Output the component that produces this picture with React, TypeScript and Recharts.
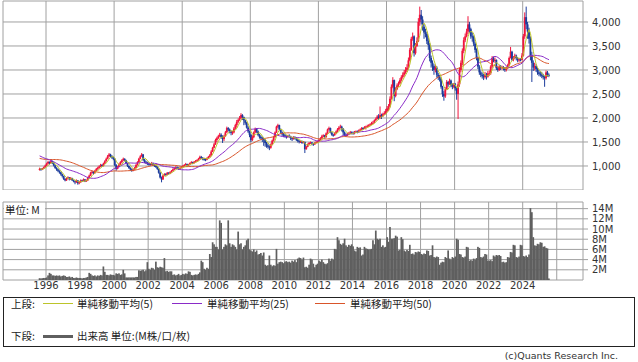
import React from 'react';
import {
  ComposedChart, Bar, Line, XAxis, YAxis, CartesianGrid, ReferenceArea
} from 'recharts';

// monthly bars, 1995-08 .. 2025-07
const START_YEAR = 1995;
const START_MONTH = 8;

// closes before the visible window, only used to seed the moving averages
const historyCloses = [
  1250, 1220, 1200, 1180, 1150, 1120,
  1100, 1080, 1050, 1020, 1000, 980, 970, 990, 1020, 1050, 1070, 1080,
  1050, 1080, 1120, 1150, 1200, 1230, 1250, 1280, 1300, 1320, 1300, 1280,
  1300, 1350, 1380, 1400, 1420, 1380, 1350, 1320, 1280, 1250, 1200, 1180,
  1150, 1100, 1020, 980, 950, 930, 920,
];

const closes = [
  940, 925, 950, 975, 1010,
  1050, 1085, 1060, 1100, 1070, 1010, 960, 930, 900, 870, 830, 790,
  730, 700, 740, 760, 720, 750, 700, 680, 660, 700, 640, 660,
  700, 690, 720, 680, 700, 760, 800, 860, 880, 850, 900, 940,
  960, 990, 1020, 1000, 1050, 1100, 1150, 1200, 1240, 1210, 1180, 1150,
  1020, 940, 980, 1040, 1080, 1120, 1150, 1120, 1060, 1000, 960, 930,
  900, 920, 960, 1020, 1080, 1150, 1200, 1240, 1130, 1090, 1070, 1050,
  1040, 1030, 1060, 1020, 1000, 990, 940, 860, 760, 720, 800, 830,
  820, 860, 840, 870, 900, 930, 950, 970, 960, 940, 960, 980,
  1000, 1020, 1040, 1010, 1030, 1060, 1080, 1060, 1090, 1100, 1120, 1150,
  1190, 1170, 1150, 1140, 1130, 1160, 1190, 1220, 1300, 1380, 1450, 1540,
  1580, 1620, 1650, 1600, 1560, 1620, 1700, 1790, 1760, 1720, 1690, 1700,
  1780, 1850, 1920, 1960, 2000, 2060, 2020, 1950, 1900, 1800, 1720, 1650,
  1540, 1600, 1700, 1770, 1720, 1650, 1610, 1580, 1560, 1540, 1480, 1430,
  1400, 1380, 1450, 1530, 1600, 1700, 1820, 1850, 1760, 1700, 1660, 1640,
  1620, 1600, 1630, 1610, 1580, 1560, 1600, 1580, 1550, 1520, 1500, 1510,
  1480, 1500, 1350, 1400, 1450, 1480, 1490, 1470, 1450, 1480, 1500, 1510,
  1540, 1580, 1620, 1640, 1600, 1680, 1760, 1790, 1700, 1650, 1640, 1680,
  1720, 1760, 1800, 1820, 1780, 1700, 1650, 1640, 1660, 1680, 1700, 1690,
  1680, 1700, 1720, 1710, 1740, 1760, 1790, 1780, 1800, 1820, 1830, 1850,
  1870, 1890, 1900, 1950, 1980, 2030, 2000, 2060, 2040, 2080, 2100, 2150,
  2200, 2240, 2400, 2650, 2790, 2460, 2600, 2680, 2720, 2790, 2850, 2900,
  2950, 3000, 3050, 3200, 3420, 3650, 3700, 3350, 3500, 3600, 4000, 4150,
  4050, 3900, 3780, 3750, 3600, 3520, 3250, 3150, 3080, 3000, 3050, 2900,
  2860, 2820, 2650, 2500, 2450, 2600, 2750, 2700, 2780, 2680, 2650, 2700,
  2620, 2500, 2700, 3000, 3150, 3400, 3620, 3700, 3800, 3950, 3850, 3700,
  3690, 3550, 3420, 3250, 3070, 2950, 2900, 2870, 2850, 2900, 2860, 2930,
  2930, 3070, 3240, 3200, 3210, 3035, 3000, 3070, 3040, 3060, 3035, 3000,
  3035, 3100, 3250, 3380, 3210, 3250, 3300, 3250, 3200, 3220, 3210, 3300,
  3700, 4100, 3950, 3800, 3650, 3300, 3150, 3050, 3080, 3020, 2950, 2920,
  2900, 2880, 2850, 2830, 2950, 2900, 2880,
];

const highs = [
  965, 955, 960, 990, 1030,
  1070, 1110, 1095, 1125, 1110, 1075, 1020, 975, 945, 910, 880, 840,
  800, 745, 760, 785, 770, 770, 755, 715, 695, 720, 705, 685,
  720, 715, 740, 730, 720, 775, 820, 880, 905, 890, 920, 960,
  985, 1010, 1045, 1040, 1070, 1120, 1175, 1230, 1270, 1255, 1225, 1195,
  1160, 1040, 1000, 1060, 1100, 1140, 1175, 1160, 1130, 1070, 1010, 975,
  950, 945, 980, 1040, 1100, 1170, 1225, 1270, 1250, 1145, 1110, 1090,
  1075, 1060, 1085, 1070, 1040, 1020, 1000, 950, 875, 780, 815, 850,
  850, 875, 870, 890, 915, 950, 975, 995, 990, 975, 975, 1000,
  1020, 1040, 1065, 1050, 1045, 1075, 1100, 1090, 1105, 1125, 1140, 1170,
  1215, 1210, 1185, 1170, 1160, 1180, 1210, 1250, 1330, 1400, 1480, 1570,
  1610, 1650, 1690, 1680, 1640, 1650, 1730, 1820, 1810, 1780, 1740, 1730,
  1810, 1880, 1960, 1990, 2040, 2100, 2080, 2030, 1960, 1920, 1830, 1740,
  1670, 1640, 1720, 1800, 1790, 1740, 1670, 1640, 1610, 1590, 1560, 1500,
  1460, 1430, 1470, 1550, 1630, 1720, 1840, 1880, 1860, 1780, 1720, 1690,
  1670, 1640, 1650, 1660, 1630, 1600, 1620, 1620, 1600, 1570, 1540, 1530,
  1530, 1520, 1510, 1420, 1470, 1500, 1510, 1500, 1480, 1500, 1520, 1530,
  1560, 1600, 1650, 1660, 1650, 1700, 1780, 1820, 1800, 1710, 1670, 1700,
  1740, 1790, 1830, 1860, 1840, 1790, 1720, 1680, 1690, 1710, 1730, 1720,
  1720, 1730, 1740, 1740, 1760, 1780, 1810, 1810, 1830, 1840, 1860, 1870,
  1890, 1920, 1940, 1970, 2010, 2060, 2080, 2240, 2090, 2110, 2140, 2190,
  2250, 2290, 2450, 2700, 2850, 2800, 2640, 2720, 2760, 2830, 2890, 2950,
  3000, 3060, 3120, 3260, 3460, 3690, 3780, 3720, 3560, 3680, 4080, 4320,
  4250, 4120, 3960, 3860, 3800, 3680, 3560, 3300, 3200, 3120, 3110, 3080,
  2940, 2900, 2840, 2670, 2560, 2640, 2790, 2770, 2820, 2800, 2720, 2730,
  2730, 2650, 2760, 3050, 3200, 3450, 3680, 3760, 3860, 4120, 4000, 3880,
  3780, 3720, 3580, 3450, 3280, 3100, 2990, 2950, 2920, 2960, 2940, 2980,
  2990, 3100, 3290, 3280, 3260, 3220, 3070, 3110, 3100, 3090, 3080, 3060,
  3070, 3130, 3280, 3480, 3400, 3290, 3340, 3320, 3270, 3250, 3250, 3350,
  3750, 4200, 4320, 4000, 3880, 3700, 3380, 3200, 3150, 3120, 3050, 3000,
  2970, 2960, 2920, 2880, 2990, 2980, 2930,
];

const lows = [
  905, 900, 915, 940, 965,
  1000, 1035, 1030, 1050, 1040, 990, 940, 900, 870, 840, 800, 760,
  710, 680, 690, 725, 700, 710, 690, 660, 620, 650, 610, 620,
  650, 670, 680, 665, 670, 690, 745, 790, 840, 820, 840, 890,
  920, 945, 975, 980, 990, 1040, 1090, 1140, 1180, 1180, 1150, 1120,
  1000, 900, 930, 970, 1020, 1060, 1100, 1100, 1040, 980, 940, 900,
  880, 890, 910, 950, 1010, 1070, 1140, 1190, 1100, 1060, 1040, 1020,
  1010, 1005, 1020, 1000, 980, 960, 920, 840, 740, 660, 710, 790,
  800, 810, 820, 830, 860, 890, 915, 935, 935, 920, 930, 950,
  965, 990, 1010, 990, 995, 1020, 1050, 1040, 1050, 1075, 1090, 1110,
  1140, 1150, 1120, 1110, 1100, 1120, 1150, 1180, 1210, 1290, 1370, 1440,
  1500, 1560, 1600, 1570, 1480, 1520, 1610, 1690, 1720, 1680, 1640, 1650,
  1680, 1760, 1800, 1890, 1940, 1980, 1960, 1850, 1860, 1780, 1690, 1600,
  1500, 1520, 1580, 1680, 1690, 1620, 1570, 1550, 1500, 1420, 1400, 1380,
  1360, 1330, 1360, 1430, 1510, 1590, 1690, 1790, 1740, 1670, 1620, 1600,
  1590, 1570, 1590, 1590, 1540, 1520, 1550, 1550, 1520, 1490, 1470, 1480,
  1460, 1470, 1270, 1340, 1390, 1440, 1460, 1430, 1420, 1440, 1470, 1480,
  1500, 1530, 1570, 1600, 1570, 1590, 1670, 1740, 1680, 1630, 1610, 1630,
  1660, 1700, 1740, 1780, 1720, 1640, 1620, 1610, 1620, 1640, 1670, 1660,
  1650, 1660, 1690, 1680, 1700, 1730, 1750, 1750, 1770, 1760, 1800, 1810,
  1830, 1850, 1870, 1890, 1940, 1970, 1960, 1980, 1980, 2020, 2060, 2080,
  2120, 2150, 2220, 2380, 2620, 2350, 2430, 2580, 2640, 2700, 2760, 2820,
  2860, 2920, 2960, 3010, 3180, 3400, 3610, 3280, 3320, 3480, 3580, 3920,
  3950, 3820, 3650, 3680, 3540, 3420, 3180, 3050, 2980, 2900, 2950, 2840,
  2790, 2760, 2610, 2440, 2360, 2420, 2580, 2650, 2690, 2640, 2600, 2620,
  2570, 2380, 1980, 2650, 2950, 3100, 3350, 3580, 3680, 3750, 3770, 3650,
  3590, 3500, 3360, 3200, 3020, 2900, 2850, 2820, 2790, 2820, 2800, 2840,
  2880, 2900, 3040, 3160, 3150, 3000, 2960, 2980, 3000, 3010, 2990, 2960,
  2970, 3020, 3080, 3240, 3190, 3180, 3230, 3200, 3160, 3170, 3180, 3200,
  3280, 3650, 3850, 3650, 3550, 3200, 2750, 2980, 2990, 2960, 2900, 2870,
  2860, 2830, 2800, 2650, 2800, 2860, 2850,
];

// volume, millions
const volumes = [
  0.35, 0.3, 0.35, 0.4, 0.4,
  0.5, 0.9, 1.4, 1.2, 0.9, 0.9, 0.8, 0.9, 0.8, 0.9, 0.7, 0.8,
  0.9, 0.8, 0.6, 0.6, 0.7, 0.5, 0.6, 0.4, 0.4, 0.5, 0.4, 0.4,
  0.4, 0.3, 0.4, 0.4, 0.5, 0.6, 1.4, 1.2, 0.9, 0.8, 0.9, 0.7,
  0.9, 0.8, 1.0, 0.9, 2.65, 1.6, 1.0, 1.0, 0.9, 1.1, 1.0, 1.0,
  0.9, 1.3, 1.2, 1.3, 1.0, 1.1, 2.0, 1.3, 0.5, 0.5, 0.5, 0.5,
  0.5, 0.5, 0.5, 0.6, 0.6, 1.9, 1.8, 1.9, 2.0, 1.7, 1.9, 3.5,
  2.2, 2.0, 2.4, 2.3, 2.0, 3.6, 2.5, 2.4, 2.6, 2.5, 2.4, 4.3,
  1.7, 1.8, 1.6, 1.7, 1.7, 1.0, 1.1, 0.9, 1.0, 1.2, 0.9, 1.0,
  1.2, 1.1, 1.3, 1.2, 1.7, 1.6, 1.0, 0.9, 1.0, 1.1, 1.0, 1.2,
  1.5, 3.8, 3.5, 2.2, 2.0, 2.4, 2.2, 5.1, 4.5, 7.4, 7.0, 6.5,
  6.5, 6.0, 11.7, 11.2, 6.0, 6.5, 7.0, 6.8, 11.7, 7.2, 6.5, 7.0,
  6.8, 6.5, 6.0, 9.5, 7.0, 7.2, 6.0, 6.5, 6.8, 7.8, 8.1, 6.0,
  5.8, 5.6, 6.0, 5.5, 5.8, 5.0, 5.1, 5.3, 4.8, 5.4, 3.0, 2.8,
  2.9, 4.8, 3.0, 2.7, 2.9, 2.8, 6.1, 3.2, 3.5, 3.6, 3.5, 3.3,
  3.6, 3.7, 3.5, 3.6, 3.4, 3.8, 3.6, 3.9, 3.5, 4.2, 4.4, 4.3,
  4.0, 4.4, 2.5, 2.6, 2.4, 3.0, 4.2, 4.0, 3.2, 2.5, 3.0, 3.2,
  3.8, 3.6, 4.0, 3.5, 3.2, 3.1, 3.3, 4.2, 3.8, 4.2, 4.0, 6.1,
  6.0, 8.4, 7.8, 7.1, 6.9, 7.2, 8.1, 6.8, 6.5, 6.9, 6.7, 7.0,
  6.6, 5.8, 5.6, 6.5, 6.3, 6.4, 4.8, 5.0, 6.5, 6.2, 6.1, 6.0,
  6.0, 6.1, 7.8, 7.0, 9.7, 8.1, 7.9, 8.1, 6.5, 6.8, 6.4, 6.5,
  8.4, 7.5, 10.4, 8.1, 8.1, 8.2, 8.7, 8.5, 5.8, 5.9, 8.4, 8.0,
  5.8, 5.6, 5.9, 5.7, 6.9, 5.1, 5.2, 5.0, 5.5, 5.4, 5.6, 5.5,
  5.1, 5.0, 5.2, 5.1, 5.8, 5.7, 4.8, 4.9, 6.8, 4.5, 4.4, 4.6,
  4.5, 3.0, 3.4, 3.6, 3.5, 4.5, 4.3, 5.8, 4.2, 4.0, 4.5, 4.3,
  4.6, 8.1, 7.9, 5.1, 5.0, 4.5, 4.4, 4.6, 6.5, 6.4, 3.8, 3.9,
  3.8, 4.2, 4.0, 4.3, 6.5, 6.3, 4.5, 4.4, 4.6, 5.1, 5.0, 3.8,
  3.8, 3.9, 3.7, 4.8, 4.6, 4.9, 4.8, 4.9, 4.7, 3.5, 3.6, 3.4,
  3.5, 4.5, 4.4, 5.5, 5.4, 6.9, 6.8, 4.5, 4.4, 4.6, 6.9, 6.8,
  4.7, 4.6, 4.8, 4.5, 5.0, 14.1, 13.3, 8.4, 6.8, 6.7, 7.1, 7.0,
  7.4, 7.3, 6.5, 6.6, 6.3, 6.2, 0.3,
];

const yearTicks = [1996, 1998, 2000, 2002, 2004, 2006, 2008, 2010, 2012, 2014, 2016, 2018, 2020, 2022, 2024];
const priceTicks = [1000, 1500, 2000, 2500, 3000, 3500, 4000];
const volumeTicks = [2, 4, 6, 8, 10, 12, 14];

const T_MIN = 1993.474;
const T_MAX = 2027.542;
const PRICE_MIN = 500;
const PRICE_MAX = 4437;
const VOL_MAX = 15.3;

const UP = '#f0143c';
const DOWN = '#1c3c9c';
const MA5_COLOR = '#bcc42a';
const MA25_COLOR = '#8a2bc8';
const MA50_COLOR = '#d9552a';
const GRID = '#a0a0a0';
const VOL_COLOR = '#5f5f5f';
const FONT = '"DejaVu Sans", sans-serif';
const JP_FONT = '"Noto Sans CJK JP", sans-serif';

const allCloses = historyCloses.concat(closes);
const movingAvg = (idx: number, n: number) => {
  let s = 0;
  for (let k = idx - n + 1; k <= idx; k++) s += allCloses[k];
  return s / n;
};

const data = closes.map((c, i) => {
  const m0 = START_MONTH - 1 + i;
  const year = START_YEAR + Math.floor(m0 / 12);
  const month = (m0 % 12) + 1;
  const open = i === 0 ? historyCloses[historyCloses.length - 1] : closes[i - 1];
  const high = Math.max(highs[i], open, c);
  const low = Math.min(lows[i], open, c);
  const idx = historyCloses.length + i;
  return {
    t: year + (month - 0.5) / 12,
    open, close: c, high, low,
    range: [low, high],
    ma5: movingAvg(idx, 5),
    ma25: movingAvg(idx, 25),
    ma50: movingAvg(idx, 50),
    vol: volumes[i],
  };
});

const Candle = (props: any) => {
  const { x, y, width, height, payload } = props;
  if (!payload || y == null) return null;
  const { open, close, high, low } = payload;
  const y1 = Math.min(y, y + height);
  const y2 = Math.max(y, y + height);
  const span = high - low || 1;
  const yOf = (v: number) => y1 + ((high - v) / span) * (y2 - y1);
  const top = yOf(Math.max(open, close));
  const bottom = yOf(Math.min(open, close));
  const cx = x + width / 2;
  const color = close >= open ? UP : DOWN;
  return (
    <g>
      <line x1={cx} x2={cx} y1={y1} y2={y2} stroke={color} strokeWidth={1} />
      <rect x={cx - 0.9} y={top} width={1.8} height={Math.max(bottom - top, 1)} fill={color} />
    </g>
  );
};

const VolumeBar = (props: any) => {
  const { x, y, width, height } = props;
  if (y == null || !height) return null;
  const cx = x + width / 2;
  return <rect x={cx - 0.85} y={y} width={1.7} height={height} fill={VOL_COLOR} />;
};

const tickStyle = { fontSize: 10, fill: '#333', fontFamily: FONT };
const legendText: React.CSSProperties = {
  position: 'absolute', fontFamily: JP_FONT, fontSize: 10.5, lineHeight: '14px', color: '#222', whiteSpace: 'nowrap',
};

export default function App() {
  return (
    <div style={{ position: 'absolute', left: 0, top: 0, width: 638, height: 362, background: '#fff', overflow: 'hidden' }}>
      <div style={{ position: 'absolute', left: 0, top: 0 }}>
        <ComposedChart width={638} height={190} data={data} margin={{ top: 1, right: 0, bottom: 0, left: 3 }}>
          <CartesianGrid stroke={GRID} horizontalValues={priceTicks} verticalValues={yearTicks} />
          <ReferenceArea x1={T_MIN} x2={T_MAX} y1={PRICE_MIN} y2={PRICE_MAX} fill="none" stroke={GRID} strokeOpacity={1} />
          <XAxis type="number" dataKey="t" domain={[T_MIN, T_MAX]} hide allowDataOverflow />
          <YAxis
            orientation="right" width={55} domain={[PRICE_MIN, PRICE_MAX]} ticks={priceTicks}
            allowDataOverflow axisLine={false} tickSize={5} tickMargin={4} interval={0}
            tickLine={{ stroke: GRID }} tick={tickStyle}
            tickFormatter={(v: number) => v.toLocaleString('en-US')}
          />
          <Bar dataKey="range" barSize={2} shape={<Candle />} isAnimationActive={false} />
          <Line dataKey="ma50" stroke={MA50_COLOR} strokeWidth={1} dot={false} isAnimationActive={false} />
          <Line dataKey="ma25" stroke={MA25_COLOR} strokeWidth={1} dot={false} isAnimationActive={false} />
          <Line dataKey="ma5" stroke={MA5_COLOR} strokeWidth={1} dot={false} isAnimationActive={false} />
        </ComposedChart>
      </div>

      <div style={{ position: 'absolute', left: 0, top: 200 }}>
        <ComposedChart width={638} height={93} data={data} margin={{ top: 2, right: 0, bottom: 0, left: 3 }}>
          <CartesianGrid stroke={GRID} horizontalValues={volumeTicks} verticalValues={[...yearTicks, 2026]} />
          <ReferenceArea x1={T_MIN} x2={T_MAX} y1={0} y2={VOL_MAX} fill="none" stroke={GRID} strokeOpacity={1} />
          <XAxis
            type="number" dataKey="t" domain={[T_MIN, T_MAX]} ticks={yearTicks} allowDataOverflow
            height={13} axisLine={false} tickLine={false} tickSize={0} tickMargin={2}
            tick={tickStyle} interval={0}
          />
          <YAxis
            orientation="right" width={55} domain={[0, VOL_MAX]} ticks={volumeTicks}
            allowDataOverflow axisLine={false} tickSize={5} tickMargin={4} interval={0}
            tickLine={{ stroke: GRID }} tick={tickStyle}
            tickFormatter={(v: number) => `${v}M`}
          />
          <Bar dataKey="vol" fill={VOL_COLOR} barSize={2} shape={<VolumeBar />} isAnimationActive={false} />
        </ComposedChart>
      </div>

      <div style={{ ...legendText, left: 4, top: 203, width: 40, height: 14, background: '#fff', paddingLeft: 1 }}>単位: M</div>

      <div style={{ position: 'absolute', left: 3, top: 297, width: 630, height: 48, border: '1px solid #222' }} />
      <div style={{ ...legendText, left: 11, top: 297 }}>上段:</div>
      <div style={{ position: 'absolute', left: 43, top: 303, width: 30, height: 1, background: MA5_COLOR }} />
      <div style={{ ...legendText, left: 77, top: 297 }}>単純移動平均(5)</div>
      <div style={{ position: 'absolute', left: 172, top: 303, width: 30, height: 1, background: MA25_COLOR }} />
      <div style={{ ...legendText, left: 207, top: 297 }}>単純移動平均(25)</div>
      <div style={{ position: 'absolute', left: 315, top: 303, width: 30, height: 1, background: MA50_COLOR }} />
      <div style={{ ...legendText, left: 350, top: 297 }}>単純移動平均(50)</div>

      <div style={{ ...legendText, left: 11, top: 329 }}>下段:</div>
      <div style={{ position: 'absolute', left: 43, top: 335, width: 30, height: 3, background: VOL_COLOR }} />
      <div style={{ ...legendText, left: 77, top: 329 }}>出来高 単位:(M株/口/枚)</div>

      <div style={{ position: 'absolute', right: 20, top: 349, fontFamily: FONT, fontSize: 9.5, lineHeight: '14px', color: '#333' }}>
        (c)Quants Research Inc.
      </div>
    </div>
  );
}
